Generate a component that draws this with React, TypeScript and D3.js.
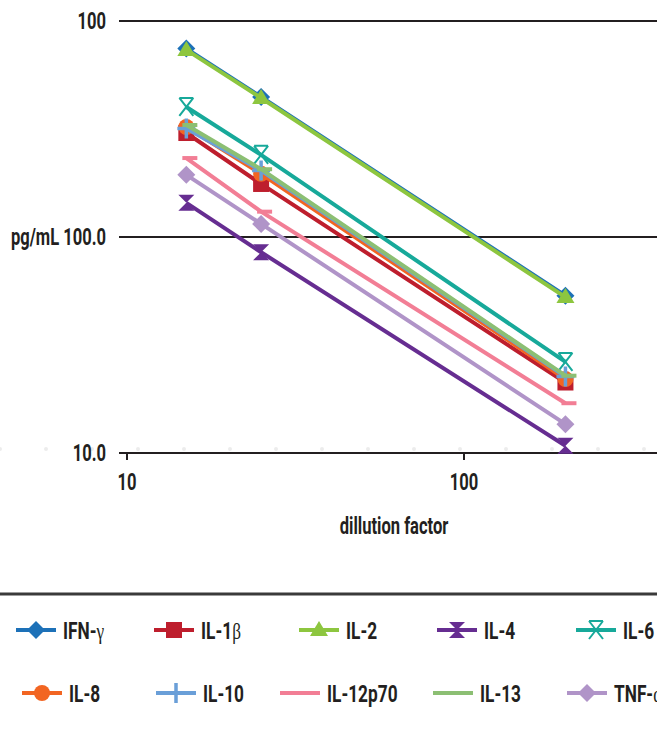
import React, { useEffect, useRef } from "react";
import * as d3 from "d3";

// dilution factors (x) and measured values per cytokine (pg/mL)
const dilutions = [15, 25, 200];

const seriesNames = ["IFN-γ", "IL-1β", "IL-2", "IL-4", "IL-6", "IL-8", "IL-10", "IL-12p70", "IL-13", "TNF-α"];

const ifnG = [745, 445, 53.5];
const il1b = [303, 176, 21.2];
const il2 = [735, 440, 52.7];
const il4 = [144, 85, 10.8];
const il6 = [400, 240, 26.4];
const il8 = [323, 196, 22.0];
const il10 = [318, 203, 22.6];
const il12p70 = [232, 131, 17.0];
const il13 = [330, 206, 22.8];
const tnfA = [194, 115, 13.6];

const seriesValues = [ifnG, il1b, il2, il4, il6, il8, il10, il12p70, il13, tnfA];

const colors = ["#1d71b8", "#be1e2d", "#8dc63f", "#662d91", "#17a99a", "#f26522", "#6a9fd8", "#f27e95", "#8cbf73", "#b094c8"];
const markers = ["diamond", "square", "triangle", "hourglass", "star", "circle", "plus", "dash", "dash", "diamond"];

const yTickValues = [10, 100, 1000];
const yTickLabels = ["10.0", "pg/mL 100.0", "100"];
const xTickValues = [10, 100];
const xTickLabels = ["10", "100"];

const FONT = "Roboto, 'DejaVu Sans', sans-serif";
const SX = 0.72; // horizontal squeeze to mimic the condensed face

function txt(parent, x, y, anchor = "start", size = 23) {
  return parent.append("text")
    .attr("transform", `translate(${x},${y}) scale(${SX},1)`)
    .attr("dy", "0.36em")
    .attr("text-anchor", anchor)
    .attr("font-family", FONT).attr("font-weight", "bold").attr("font-size", size)
    .attr("fill", "#231f20");
}

function drawMarker(g, type, x, y, color) {
  if (type === "diamond") {
    g.append("path").attr("d", `M${x},${y - 9}L${x + 9},${y}L${x},${y + 9}L${x - 9},${y}Z`).attr("fill", color);
  } else if (type === "square") {
    g.append("rect").attr("x", x - 8).attr("y", y - 8).attr("width", 16).attr("height", 16).attr("fill", color);
  } else if (type === "triangle") {
    g.append("path").attr("d", `M${x},${y - 9}L${x + 9},${y + 6}L${x - 9},${y + 6}Z`).attr("fill", color);
  } else if (type === "hourglass") {
    g.append("path").attr("d", `M${x - 8},${y - 8}L${x + 8},${y - 8}L${x},${y}Z M${x - 8},${y + 8}L${x + 8},${y + 8}L${x},${y}Z`).attr("fill", color);
  } else if (type === "star") {
    g.append("path")
      .attr("d", `M${x - 7},${y - 9}L${x + 7},${y + 9}M${x + 7},${y - 9}L${x - 7},${y + 9}M${x - 7},${y - 9}L${x + 7},${y - 9}`)
      .attr("stroke", color).attr("stroke-width", 2).attr("fill", "none");
  } else if (type === "circle") {
    g.append("circle").attr("cx", x).attr("cy", y).attr("r", 8).attr("fill", color);
  } else if (type === "plus") {
    g.append("path").attr("d", `M${x - 9},${y}L${x + 9},${y}M${x},${y - 10}L${x},${y + 10}`)
      .attr("stroke", color).attr("stroke-width", 3.5).attr("fill", "none");
  } else if (type === "dash") {
    g.append("path").attr("d", `M${x - 4},${y}L${x + 11},${y}`).attr("stroke", color).attr("stroke-width", 4);
  }
}

// split a label so greek letters can use a lighter serif face
function addLabel(t, label) {
  const m = label.match(/^(.*?)([αβγ]?)$/);
  t.append("tspan").text(m[1]);
  if (m[2]) t.append("tspan").attr("font-family", "'Liberation Serif', 'DejaVu Serif', serif").attr("font-weight", "normal").attr("font-size", 24).text(m[2]);
}

export default function App() {
  const ref = useRef(null);

  useEffect(() => {
    const width = 657;
    const height = 729;
    const svg = d3.select(ref.current).attr("width", width).attr("height", height);
    svg.selectAll("*").remove();

    const x = d3.scaleLog().domain([10, 100]).range([127, 464]);
    const y = d3.scaleLog().domain([10, 1000]).range([453, 21]);

    // faint dotted background line
    svg.append("g").selectAll("circle")
      .data(d3.range(0, width, 46))
      .enter().append("circle")
      .attr("cx", (d) => d).attr("cy", 449).attr("r", 2).attr("fill", "#ececec");

    // gridlines
    svg.append("g").selectAll("line")
      .data(yTickValues)
      .enter().append("line")
      .attr("x1", 119).attr("x2", width)
      .attr("y1", (d) => y(d)).attr("y2", (d) => y(d))
      .attr("stroke", "#231f20").attr("stroke-width", 2);

    yTickValues.forEach((v, i) => {
      txt(svg, 106, y(v), "end").text(yTickLabels[i]);
    });

    // x ticks
    const xt = svg.append("g");
    xTickValues.forEach((v, i) => {
      xt.append("line").attr("x1", x(v)).attr("x2", x(v)).attr("y1", y(10)).attr("y2", y(10) + 7)
        .attr("stroke", "#231f20").attr("stroke-width", 2);
      txt(xt, x(v), 482, "middle").text(xTickLabels[i]);
    });

    txt(svg, 394, 526, "middle").text("dillution factor");

    // series
    const line = d3.line().x((d) => x(d[0])).y((d) => y(d[1]));
    seriesValues.forEach((vals, i) => {
      const g = svg.append("g");
      const pts = dilutions.map((d, j) => [d, vals[j]]);
      g.append("path").attr("d", line(pts)).attr("fill", "none")
        .attr("stroke", colors[i]).attr("stroke-width", 4);
      pts.forEach((p) => drawMarker(g, markers[i], x(p[0]), y(p[1]), colors[i]));
    });

    // legend
    svg.append("line").attr("x1", 0).attr("x2", width).attr("y1", 594).attr("y2", 594)
      .attr("stroke", "#3a3a3a").attr("stroke-width", 3);

    const legendX = [[16, 154, 299, 437, 576], [22, 156, 280, 433, 567]];
    const legendY = [630, 693];
    seriesNames.forEach((name, i) => {
      const col = i % 5;
      const row = Math.floor(i / 5);
      const lx = legendX[row][col];
      const ly = legendY[row];
      const g = svg.append("g");
      g.append("line").attr("x1", lx).attr("x2", lx + 40).attr("y1", ly).attr("y2", ly)
        .attr("stroke", colors[i]).attr("stroke-width", 4);
      if (markers[i] !== "dash") drawMarker(g, markers[i], lx + 20, ly, colors[i]);
      const t = txt(g, lx + 47, ly, "start", 24);
      addLabel(t, name);
    });
  }, []);

  return <svg ref={ref} style={{ display: "block", position: "absolute", left: 0, top: 0 }}></svg>;
}
